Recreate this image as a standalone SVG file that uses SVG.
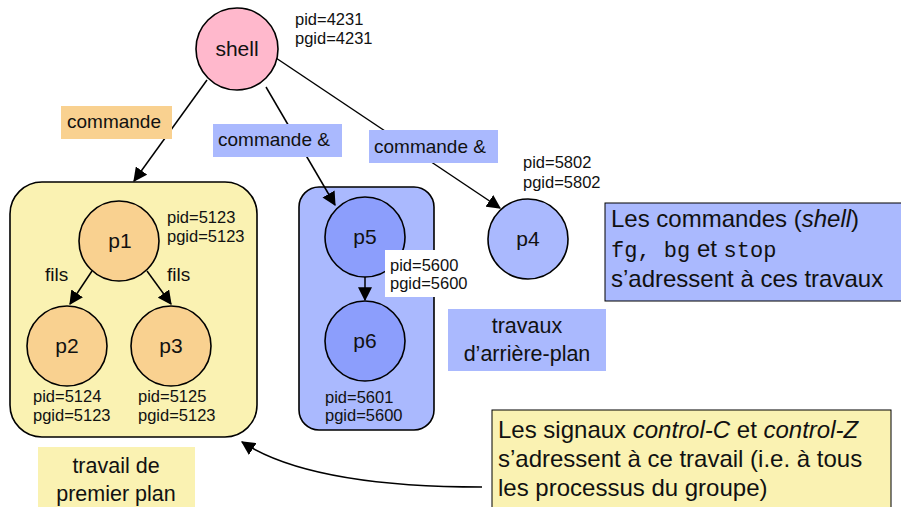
<svg xmlns="http://www.w3.org/2000/svg" width="901" height="507" viewBox="0 0 901 507">
  <defs>
    <marker id="arrow" viewBox="0 0 10 10" refX="9" refY="5" markerWidth="10" markerHeight="10" markerUnits="userSpaceOnUse" orient="auto">
      <path d="M0,0 L10,5 L0,10 z" fill="#000"/>
    </marker>
    <marker id="arrowL" viewBox="0 0 12 12" refX="11" refY="6" markerWidth="14" markerHeight="14" markerUnits="userSpaceOnUse" orient="auto">
      <path d="M0,0 L12,6 L0,12 z" fill="#000"/>
    </marker>
  </defs>
  <style>
    text { font-family: "Liberation Sans", Arial, sans-serif; fill: #111; }
    .node { stroke: #000; stroke-width: 1.6; }
    .pid { font-size: 16.5px; }
    .name { font-size: 21px; text-anchor: middle; }
    .lbl { font-size: 19px; }
    .big { font-size: 24px; }
    .mid { font-size: 21.5px; text-anchor: middle; }
    .mono { font-family: "Liberation Mono", "Courier New", monospace; font-size: 22px; }
    .edge { stroke: #000; stroke-width: 1.5; fill: none; }
  </style>
  <rect width="901" height="507" fill="#fff"/>

  <!-- job containers -->
  <g id="job-fg">
    <rect x="10" y="182" width="247" height="255" rx="32" fill="#FAF2B2" class="node"/>
  </g>
  <g id="job-bg">
    <rect x="299" y="187" width="135" height="243" rx="20" fill="#AAB9FE" class="node"/>
  </g>

  <!-- connectors -->
  <g id="connectors">
    <line x1="207" y1="80" x2="134" y2="181" class="edge" marker-end="url(#arrowL)"/>
    <line x1="266" y1="87" x2="335" y2="205" class="edge" marker-end="url(#arrowL)"/>
    <line x1="276" y1="58" x2="500" y2="208" class="edge" marker-end="url(#arrowL)"/>
    <line x1="92" y1="271" x2="70" y2="304" class="edge" marker-end="url(#arrowL)"/>
    <line x1="147" y1="271" x2="171" y2="304" class="edge" marker-end="url(#arrowL)"/>
    <line x1="365" y1="277" x2="365" y2="300" class="edge" marker-end="url(#arrowL)"/>
    <path d="M482,487 C400,487 300,480 242,442" class="edge" marker-end="url(#arrowL)"/>
  </g>

  <!-- edge labels -->
  <g id="label-commande">
    <rect x="61" y="106" width="111" height="33" fill="#F9D190"/>
    <text x="67" y="128" class="lbl">commande</text>
  </g>
  <g id="label-commande-bg1">
    <rect x="213" y="124" width="129" height="33" fill="#AAB9FE"/>
    <text x="218" y="146" class="lbl">commande &amp;</text>
  </g>
  <g id="label-commande-bg2">
    <rect x="369" y="130" width="129" height="33" fill="#AAB9FE"/>
    <text x="374" y="153" class="lbl">commande &amp;</text>
  </g>
  <g id="label-fils">
    <text x="45" y="281" class="lbl">fils</text>
    <text x="167" y="281" class="lbl">fils</text>
  </g>

  <!-- processes -->
  <g id="shell">
    <circle cx="237" cy="49" r="41" fill="#FFB8CC" class="node"/>
    <text x="237" y="56" class="name">shell</text>
    <text x="295" y="25" class="pid">pid=4231</text>
    <text x="295" y="44" class="pid">pgid=4231</text>
  </g>
  <g id="p1">
    <circle cx="119" cy="241" r="40" fill="#F9D190" class="node"/>
    <text x="120" y="248" class="name">p1</text>
    <text x="167" y="223" class="pid">pid=5123</text>
    <text x="167" y="242" class="pid">pgid=5123</text>
  </g>
  <g id="p2">
    <circle cx="67" cy="346" r="40" fill="#F9D190" class="node"/>
    <text x="67" y="353" class="name">p2</text>
    <text x="33" y="402" class="pid">pid=5124</text>
    <text x="33" y="421" class="pid">pgid=5123</text>
  </g>
  <g id="p3">
    <circle cx="171" cy="346" r="40" fill="#F9D190" class="node"/>
    <text x="171" y="353" class="name">p3</text>
    <text x="138" y="402" class="pid">pid=5125</text>
    <text x="138" y="421" class="pid">pgid=5123</text>
  </g>
  <g id="p5">
    <circle cx="365" cy="237" r="40" fill="#8C9EFC" class="node"/>
    <text x="365" y="244" class="name">p5</text>
    <rect x="385" y="250" width="87" height="47" fill="#fff"/>
    <text x="390" y="271" class="pid">pid=5600</text>
    <text x="390" y="289" class="pid">pgid=5600</text>
  </g>
  <g id="p6">
    <circle cx="365" cy="341" r="40" fill="#8C9EFC" class="node"/>
    <text x="365" y="348" class="name">p6</text>
    <text x="325" y="403" class="pid">pid=5601</text>
    <text x="325" y="421" class="pid">pgid=5600</text>
  </g>
  <g id="p4">
    <circle cx="528" cy="239" r="40" fill="#AAB9FE" class="node"/>
    <text x="528" y="246" class="name">p4</text>
    <text x="523" y="168" class="pid">pid=5802</text>
    <text x="523" y="188" class="pid">pgid=5802</text>
  </g>

  <!-- group captions -->
  <g id="caption-fg">
    <rect x="38" y="447" width="157" height="60" fill="#FAF2B2"/>
    <text x="116" y="473" class="mid">travail de</text>
    <text x="116" y="501" class="mid">premier plan</text>
  </g>
  <g id="caption-bg">
    <rect x="448" y="309" width="158" height="62" fill="#AAB9FE"/>
    <text x="527" y="333" class="mid">travaux</text>
    <text x="527" y="361" class="mid">d’arrière-plan</text>
  </g>

  <!-- notes -->
  <g id="note-bg">
    <rect x="605" y="203" width="300" height="98" fill="#AAB9FE" stroke="#000" stroke-width="1"/>
    <text x="611" y="227" class="big">Les commandes (<tspan font-style="italic">shell</tspan>)</text>
    <text x="611" y="257" class="big"><tspan class="mono">fg, bg</tspan> et <tspan class="mono">stop</tspan></text>
    <text x="611" y="287" class="big">s’adressent à ces travaux</text>
  </g>
  <g id="note-fg">
    <rect x="492" y="410" width="399" height="100" fill="#FAF2B2" stroke="#000" stroke-width="1"/>
    <text x="498" y="438" class="big">Les signaux <tspan font-style="italic">control-C</tspan> et <tspan font-style="italic">control-Z</tspan></text>
    <text x="498" y="467" class="big">s’adressent à ce travail (i.e. à tous</text>
    <text x="498" y="496" class="big">les processus du groupe)</text>
  </g>
</svg>
